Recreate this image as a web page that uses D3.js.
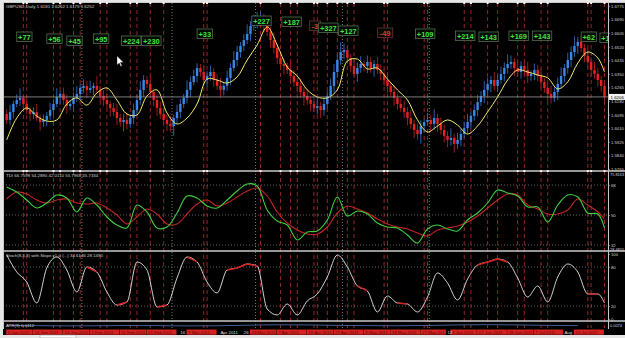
<!DOCTYPE html>
<html>
<head>
<meta charset="utf-8">
<script src="https://cdn.jsdelivr.net/npm/d3@7"></script>
<style>
html, body { margin: 0; padding: 0; background: #e4e4e4; overflow: hidden; }
svg { display: block; }
text { font-family: "Liberation Sans", Arial, sans-serif; }
</style>
</head>
<body>
<svg id="svg" width="625" height="338"></svg>
<script>
// GBPUSD daily candles, prices in pips (1.6061 -> 16061)
const firstOpen = 16099;
const closes = [
  16062,16112,16162,16187,16200,16162,16124,16099,16112,16074,16049,16062,16087,16124,16162,16206,16225,16187,16149,16162,
  16200,16225,16262,16275,16250,16262,16275,16250,16212,16187,16162,16137,16112,16074,16049,16062,16037,16074,16124,16187,
  16250,16312,16287,16237,16187,16137,16099,16062,16037,16024,16074,16112,16162,16200,16250,16300,16337,16387,16362,16312,
  16337,16362,16312,16275,16250,16275,16325,16387,16437,16487,16525,16562,16600,16650,16675,16688,16700,16663,16613,16562,
  16512,16450,16412,16400,16375,16337,16300,16275,16237,16212,16187,16162,16137,16149,16124,16162,16212,16275,16362,16437,
  16487,16500,16450,16400,16350,16387,16412,16400,16425,16387,16412,16375,16350,16312,16275,16237,16200,16162,16137,16112,
  16074,16037,15999,15974,16024,16049,16062,16037,16074,16037,15999,15962,15937,15949,15912,15937,15974,16011,16049,16087,
  16124,16174,16212,16250,16287,16312,16275,16312,16350,16387,16412,16425,16387,16362,16400,16375,16337,16350,16375,16337,
  16300,16262,16225,16200,16237,16287,16337,16387,16437,16487,16525,16550,16512,16462,16425,16375,16350,16312,16275,16206
];
const wickUp = [
  30,45,20,35,60,25,40,15,30,50,20,35,25,45,30,55,20,40,30,25,
  35,50,25,40,30,45,20,60,25,35,40,20,30,50,25,35,45,20,40,30,
  55,30,25,45,20,35,40,25,30,50,20,45,30,25,60,35,40,30,25,45,
  30,40,25,35,50,20,45,30,55,40,25,35,60,30,45,50,40,25,35,30,
  45,25,40,30,20,50,35,25,45,30,40,20,35,55,25,40,30,45,50,35,
  60,40,30,25,45,35,50,20,40,30,25,45,35,30,50,20,40,25,35,45,
  30,50,25,40,35,20,45,30,55,25,40,35,30,60,25,45,30,40,50,25,
  35,45,30,55,40,25,50,30,45,35,60,40,25,45,30,35,50,20,40,30,
  45,25,35,50,30,40,55,25,45,35,60,30,40,25,45,30,50,35,25,30
];
const wickDn = [
  25,30,40,20,35,50,25,45,30,20,55,30,40,25,35,20,45,30,50,25,
  40,25,35,30,50,20,45,25,35,40,30,55,25,45,30,60,35,25,40,30,
  30,45,25,35,40,50,30,25,45,35,60,30,40,25,35,45,20,40,30,35,
  45,30,40,25,50,35,30,45,20,40,35,30,25,45,30,40,35,50,25,45,
  35,40,30,55,25,45,30,40,35,60,30,45,25,40,50,35,30,25,40,35,
  30,45,35,40,25,50,30,35,45,30,55,25,40,35,45,30,50,35,25,40,
  45,30,50,35,60,40,25,45,35,50,30,40,45,35,55,30,40,25,35,45,
  30,40,25,45,35,50,30,40,25,45,35,30,50,25,40,35,45,30,40,35,
  40,30,45,35,25,50,30,40,35,45,30,50,25,40,35,45,30,40,35,30
];

// indicator readings, one every 3 bars (last one on the final bar)
const sampleDays = d3.range(0, 178, 3).concat([179]);
const maLine = [
  15937,16074,16137,16087,16055,16062,16162,16200,16155,16231,16262,16187,16099,16093,16212,16250,16105,16037,16074,16162,
  16318,16312,16293,16331,16437,16531,16644,16531,16393,16337,16250,16206,16200,16250,16431,16443,16381,16387,16318,16250,
  16187,16062,15987,16024,16062,16030,15974,16024,16112,16206,16312,16375,16362,16343,16325,16256,16300,16418,16487,16450,
  16362
];
const tdiGreen = [
  66.8,63.8,59.0,54.2,57.2,62.0,60.2,51.8,60.2,56.0,48.8,44.0,42.2,56.0,51.8,42.2,42.8,51.2,61.4,60.2,
  55.4,54.2,59.0,64.4,68.6,67.4,53.0,46.4,44.0,35.0,39.8,40.4,47.0,60.8,49.4,52.4,50.6,45.2,42.8,42.2,
  38.0,33.2,41.6,44.0,41.6,40.4,47.0,51.2,57.2,65.0,63.2,61.4,54.8,54.8,45.8,56.0,62.0,60.8,51.2,50.6,
  42.2
];
const tdiRed = [
  59.6,63.8,62.6,59.0,57.2,59.0,59.6,57.2,56.6,57.2,54.2,50.0,44.6,48.8,53.6,50.6,44.6,44.6,50.6,56.6,
  59.0,55.4,57.2,60.8,64.4,66.2,61.4,51.8,45.2,41.0,38.6,38.6,42.8,51.2,55.4,53.6,51.2,47.6,44.6,42.8,
  41.6,39.2,37.4,41.0,42.2,43.4,45.8,49.4,54.2,59.0,62.6,62.0,56.0,53.6,50.6,50.6,53.0,59.6,56.0,51.8,
  47.6
];
const stochMain = [
  98.5,72.3,56.9,24.6,78.5,95.4,75.4,41.5,80.0,72.3,41.5,21.5,26.2,87.7,75.4,18.5,21.5,63.1,95.4,87.7,
  56.9,40.0,75.4,78.5,84.6,81.5,15.4,6.2,23.1,6.2,27.7,38.5,64.6,98.5,80.0,50.8,43.1,10.8,35.4,24.6,
  23.1,10.8,33.8,70.8,55.4,29.2,61.5,83.1,87.7,92.3,87.7,63.1,33.8,50.8,26.2,64.6,84.6,72.3,38.5,38.5,
  24.6
];
const atrDays = d3.range(0, 180, 9);
const atrValues = [0.0112,0.0108,0.0104,0.0106,0.0110,0.0108,0.0104,0.0106,0.0114,0.0120,
                   0.0118,0.0112,0.0108,0.0106,0.0110,0.0118,0.0122,0.0118,0.0112,0.0108];

// closed trades: entry bar, exit bar, result in pips, label level
const tradeOpen  = [5,14,20,28,37,43,59,76,85,92,96,102,113,125,137,144,153,160,174,179];
const tradeClose = [6,16,22,30,39,47,60,82,87,93,99,104,114,126,139,147,155,162,175,null];
const tradePips  = [77,56,45,95,224,230,33,227,187,-3,327,127,-49,109,214,143,169,143,62,1];
const tradeLevel = [16581,16569,16556,16569,16556,16556,16600,16681,16675,16650,16637,16619,16606,16600,16587,16581,16587,16587,16581,16575];

const monthStarts = [23, 50, 75, 101, 127];
const priceTicks = d3.range(15755, 16776, 85);
const tdiLevels = [68, 50, 32];
const stochLevels = [80, 20];
const stochTicks = [100, 80, 20, 0];

// time axis: highlighted date labels and plain ones
const redDateDays = [0,8,17,25,34,42,54,73,81,90,98,107,115,124,133,141,150,158,170];
const redDateText = ["5 Jan 2011","13 Jan 2011","24 Jan 2011","1 Feb 2011","11 Feb 2011","21 Feb 2011","7 Mar 2011",
  "29 Mar 2011","7 Apr 2011","18 Apr 2011","27 Apr 2011","9 May 2011","18 May 2011","27 May 2011","8 Jun 2011",
  "17 Jun 2011","28 Jun 2011","7 Jul 2011","21 Jul 2011"];
const plainDateDays = [52, 64, 71, 132, 167];
const plainDateText = ["16", "Apr 2011", "26", "12", "Aug"];

const headers = {
  main: "GBPUSD,Daily  1.6181 1.6262 1.6175 1.6252",
  tdi: "TDI 66.7598 54.2890 42.0110 55.7968 45.7334",
  stoch: "Stoch(8,3,3) with Slope v1.0 (...) 34.6146 28.1490",
  atr: "ATR(9) 0.0112"
};

// ---------------------------------------------------------------
const W = 625, H = 338, PL = 3, PR = 608;
const pane = { main: [3, 170], tdi: [172, 250], stoch: [252, 320], atr: [322, 328] };
const svg = d3.select('#svg');
const defs = svg.append('defs');

svg.append('rect').attr('width', W).attr('height', H).attr('fill', '#e6e6e6');
svg.append('rect').attr('x', PL).attr('y', 2).attr('width', W - PL).attr('height', 333).attr('fill', '#000');

Object.keys(pane).forEach(k => {
  defs.append('clipPath').attr('id', 'clip-' + k).append('rect')
    .attr('x', PL).attr('y', pane[k][0]).attr('width', PR - PL).attr('height', pane[k][1] - pane[k][0]);
});

const n = closes.length;
const x = d3.scaleLinear().domain([0, n - 1]).range([6.7, 604.5]);
const y = d3.scaleLinear().domain([15755, 16775]).range([169, 6]);
const yTdi = d3.scaleLinear().domain([28.4, 75.8]).range([251, 172]);
const yStoch = d3.scaleLinear().domain([0, 100]).range([319, 254]);
const yAtr = d3.scaleLinear().domain([0.0074, 0.0160]).range([328, 322]);

const candles = closes.map((c, i) => {
  const o = i ? closes[i - 1] : firstOpen;
  return { i, o, c, h: Math.max(o, c) + wickUp[i], l: Math.min(o, c) - wickDn[i] };
});

// month separators (dotted) and trade lines (red dashes) through all panes
const grid = svg.append('g');
grid.selectAll('line.month').data(monthStarts).join('line').attr('class', 'month')
  .attr('x1', d => x(d) - 1.6).attr('x2', d => x(d) - 1.6).attr('y1', 3).attr('y2', 328)
  .attr('stroke', '#9a9a9a').attr('stroke-width', 0.8).attr('stroke-dasharray', '1,2');

const tradeBars = [];
tradeOpen.forEach((d, k) => { tradeBars.push(d); if (tradeClose[k] !== null) tradeBars.push(tradeClose[k]); });
grid.selectAll('line.trade').data(tradeBars).join('line').attr('class', 'trade')
  .attr('x1', d => x(d)).attr('x2', d => x(d)).attr('y1', 3).attr('y2', 328)
  .attr('stroke', '#a32a2a').attr('stroke-width', 0.9).attr('stroke-dasharray', '4,3');

// level grids
grid.selectAll('line.tdi').data(tdiLevels).join('line').attr('class', 'tdi')
  .attr('x1', PL).attr('x2', PR).attr('y1', d => yTdi(d)).attr('y2', d => yTdi(d))
  .attr('stroke', '#8a8a8a').attr('stroke-width', 0.7).attr('stroke-dasharray', '1,2');
grid.selectAll('line.st').data(stochLevels).join('line').attr('class', 'st')
  .attr('x1', PL).attr('x2', PR).attr('y1', d => yStoch(d)).attr('y2', d => yStoch(d))
  .attr('stroke', '#8a8a8a').attr('stroke-width', 0.7).attr('stroke-dasharray', '1,2');

// candles
const gMain = svg.append('g').attr('clip-path', 'url(#clip-main)');
gMain.selectAll('line.wick').data(candles).join('line').attr('class', 'wick')
  .attr('x1', d => x(d.i)).attr('x2', d => x(d.i)).attr('y1', d => y(d.h)).attr('y2', d => y(d.l))
  .attr('stroke', d => d.c >= d.o ? '#2c5fa8' : '#9a1c1c').attr('stroke-width', 1);
gMain.selectAll('rect.body').data(candles).join('rect').attr('class', 'body')
  .attr('x', d => x(d.i) - 1.2).attr('width', 2.4)
  .attr('y', d => y(Math.max(d.o, d.c)))
  .attr('height', d => Math.max(1, Math.abs(y(d.o) - y(d.c))))
  .attr('fill', d => d.c >= d.o ? '#3a86e6' : '#e42222');

// moving average
const maLineGen = d3.line().x((d, k) => x(sampleDays[k])).y(d => y(d)).curve(d3.curveCatmullRom.alpha(0.5));
gMain.append('path').datum(maLine).attr('d', maLineGen)
  .attr('fill', 'none').attr('stroke', '#f2ee6a').attr('stroke-width', 1);

// bid line
const last = closes[n - 1];
gMain.append('line').attr('x1', PL).attr('x2', PR).attr('y1', y(last)).attr('y2', y(last))
  .attr('stroke', '#9c9c9c').attr('stroke-width', 0.8);

// trade result labels
const gLab = gMain.append('g');
tradePips.forEach((p, k) => {
  const cx = x(tradeOpen[k]) + 1, cy = y(tradeLevel[k]);
  const txt = (p > 0 ? '+' : '') + p;
  const w = txt.length * 4.1 + 3;
  const win = p >= 0;
  gLab.append('rect').attr('x', cx - w / 2).attr('y', cy - 5).attr('width', w).attr('height', 9.5)
    .attr('fill', '#050a05').attr('stroke', win ? '#4f6e4f' : '#6e3030').attr('stroke-width', 0.8);
  gLab.append('text').attr('x', cx).attr('y', cy + 2.8).attr('text-anchor', 'middle')
    .attr('font-size', 7.4).attr('font-weight', 'bold').attr('fill', win ? '#3fe33f' : '#e23a2a').text(txt);
});

// cursor
svg.append('path').attr('d', 'M117,56 l0,9 l2.2,-2 l1.6,3.4 l1.2,-0.6 l-1.6,-3.3 l3,-0.2 z')
  .attr('fill', '#fff').attr('stroke', '#222').attr('stroke-width', 0.4);

// TDI
const gTdi = svg.append('g').attr('clip-path', 'url(#clip-tdi)');
const tdiGen = d3.line().x((d, k) => x(sampleDays[k])).y(d => yTdi(d)).curve(d3.curveCatmullRom.alpha(0.5));
gTdi.append('path').datum(tdiRed).attr('d', tdiGen).attr('fill', 'none').attr('stroke', '#c42424').attr('stroke-width', 1.1);
gTdi.append('path').datum(tdiGreen).attr('d', tdiGen).attr('fill', 'none').attr('stroke', '#3fcf3f').attr('stroke-width', 1.1);

// Stochastic with slope colouring
const gSt = svg.append('g').attr('clip-path', 'url(#clip-stoch)');
const stGen = d3.line().x((d, k) => x(sampleDays[k])).y(d => yStoch(d)).curve(d3.curveMonotoneX);
gSt.append('path').datum(stochMain).attr('d', stGen).attr('fill', 'none').attr('stroke', '#e6e6e6').attr('stroke-width', 0.9);
const flat = d3.range(stochMain.length - 1).filter(k => Math.abs(stochMain[k + 1] - stochMain[k]) < 8);
gSt.selectAll('line.flat').data(flat).join('line').attr('class', 'flat')
  .attr('x1', k => x(sampleDays[k])).attr('x2', k => x(sampleDays[k + 1]))
  .attr('y1', k => yStoch(stochMain[k])).attr('y2', k => yStoch(stochMain[k + 1]))
  .attr('stroke', '#d42020').attr('stroke-width', 1.4);

// ATR
const gAtr = svg.append('g').attr('clip-path', 'url(#clip-atr)');
gAtr.append('path').datum(atrValues)
  .attr('d', d3.line().x((d, k) => x(atrDays[k])).y(d => yAtr(d)).curve(d3.curveMonotoneX))
  .attr('fill', 'none').attr('stroke', '#4a78b8').attr('stroke-width', 0.8);

// pane separators and frame
svg.selectAll('line.sep').data([171, 251, 321]).join('line').attr('class', 'sep')
  .attr('x1', PL).attr('x2', W).attr('y1', d => d).attr('y2', d => d)
  .attr('stroke', '#c8c8c8').attr('stroke-width', 1.3);
svg.append('line').attr('x1', PR + 0.5).attr('x2', PR + 0.5).attr('y1', 2).attr('y2', 329)
  .attr('stroke', '#c8c8c8').attr('stroke-width', 1);
svg.append('line').attr('x1', PL).attr('x2', W).attr('y1', 2.5).attr('y2', 2.5).attr('stroke', '#c8c8c8').attr('stroke-width', 1);
svg.append('line').attr('x1', PL + 0.5).attr('x2', PL + 0.5).attr('y1', 2).attr('y2', 329).attr('stroke', '#c8c8c8').attr('stroke-width', 1);

// white markers where trade lines meet the top and the first separator
svg.selectAll('rect.mk').data(tradeBars.flatMap(d => [[d, 3], [d, 171]])).join('rect').attr('class', 'mk')
  .attr('x', d => x(d[0]) - 1).attr('y', d => d[1] - 1).attr('width', 2).attr('height', 2).attr('fill', '#f4f4f4');

// right axes
function styleAxis(g) {
  g.select('.domain').remove();
  g.selectAll('.tick line').attr('stroke', '#bbb').attr('stroke-width', 0.6);
  g.selectAll('.tick text').attr('fill', '#d0d0d0').attr('font-size', 4.2)
    .attr('font-family', '"Liberation Sans", Arial, sans-serif').attr('x', 3);
}
svg.append('g').attr('transform', `translate(${PR},0)`)
  .call(d3.axisRight(y).tickValues(priceTicks).tickSize(2).tickFormat(d => (d / 10000).toFixed(4)))
  .call(styleAxis);
svg.append('g').attr('transform', `translate(${PR},0)`)
  .call(d3.axisRight(yTdi).tickValues(tdiLevels).tickSize(2).tickFormat(d3.format('d')))
  .call(styleAxis);
svg.append('g').attr('transform', `translate(${PR},0)`)
  .call(d3.axisRight(yStoch).tickValues(stochTicks).tickSize(2).tickFormat(d3.format('d')))
  .call(styleAxis);

const axisText = (t, yy) => svg.append('text').attr('x', PR + 2).attr('y', yy).attr('font-size', 3.9)
  .attr('fill', '#d0d0d0').text(t);
axisText('75.8163', 176);
axisText('28.4855', 250.6);
axisText('0.0074', 327);

// bid price tag
svg.append('rect').attr('x', PR + 1).attr('y', y(last) - 3).attr('width', 16).attr('height', 6).attr('fill', '#f4f4f4');
svg.append('text').attr('x', PR + 2.5).attr('y', y(last) + 1.8).attr('font-size', 4.4).attr('fill', '#000')
  .text((last / 10000).toFixed(4));

// pane headers
const head = (t, yy) => svg.append('text').attr('x', 6).attr('y', yy).attr('font-size', 4.4)
  .attr('fill', '#cfcfcf').text(t);
head(headers.main, 8);
head(headers.tdi, 177);
head(headers.stoch, 257);
head(headers.atr, 326.5);

// time axis: highlighted labels run together into red strips, broken by plain labels
const gT = svg.append('g');
const gBox = gT.append('g');
redDateDays.forEach((d, k) => {
  const t = gT.append('text').attr('x', x(d) + 1).attr('y', 333.6).attr('font-size', 4.4).attr('fill', '#5a0a0a').text(redDateText[k]);
  const tw = t.node().getComputedTextLength() + 4;
  const next = redDateDays[k + 1];
  const gap = next !== undefined ? x(next) - x(d) : Infinity;
  let w = gap < 40 ? gap - 0.3 : Math.max(tw, 30);
  const plainNext = plainDateDays.find(p => p > d);
  if (plainNext !== undefined) w = Math.min(w, x(plainNext) - x(d) - 1);
  gBox.append('rect').attr('x', x(d) - 0.5).attr('y', 329.5).attr('width', w).attr('height', 5.2).attr('fill', '#d82222');
});
plainDateDays.forEach((d, k) => {
  gT.append('text').attr('x', x(d)).attr('y', 333.6).attr('font-size', 4.4).attr('fill', '#d8d8d8').text(plainDateText[k]);
});
svg.append('rect').attr('x', 0).attr('y', 335).attr('width', W).attr('height', 3).attr('fill', '#e6e6e6');
svg.append('rect').attr('x', 40).attr('y', 335).attr('width', 36).attr('height', 3).attr('fill', '#fafafa').attr('stroke', '#999').attr('stroke-width', 0.5);
</script>
</body>
</html>
